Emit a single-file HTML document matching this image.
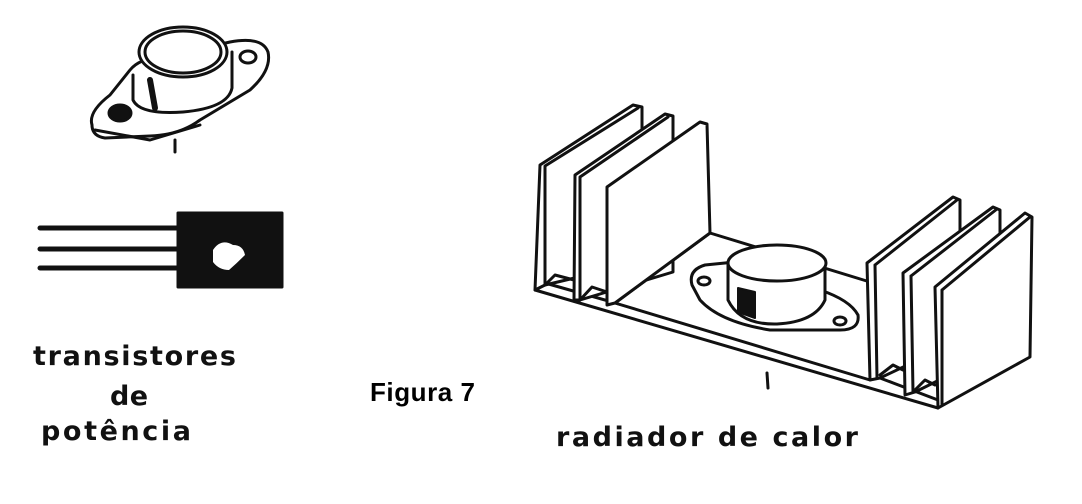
<!DOCTYPE html>
<html><head><meta charset="utf-8"><style>
html,body{margin:0;padding:0;background:#fff;}
svg{display:block}
.t{font-family:"DejaVu Sans","Liberation Sans",sans-serif;font-weight:bold;font-size:27px;fill:#111}
</style></head><body>
<svg width="1082" height="504" viewBox="0 0 1082 504" xmlns="http://www.w3.org/2000/svg">
<rect width="1082" height="504" fill="#fff"/>
<g fill="none" stroke="#111" stroke-width="3" stroke-linejoin="round" stroke-linecap="round">
<!-- top-left TO-3 transistor -->
<path d="M92,125 Q88,112 110,95 L130,70 Q140,58 160,58 L230,42 Q262,36 268,52 Q272,70 250,90 L200,120 Q180,135 150,136 L105,138 Q92,136 92,125 Z" fill="#fff"/>
<path d="M95,130 L150,140 L200,125"/>
<ellipse cx="120" cy="113" rx="11" ry="8" fill="#111"/>
<ellipse cx="248" cy="57" rx="8" ry="6"/>
<path d="M133,75 L133,100 Q140,115 183,112 Q228,108 232,88 L232,52" fill="#fff"/>
<ellipse cx="183" cy="52" rx="44" ry="25" fill="#fff"/>
<ellipse cx="183" cy="52" rx="38" ry="21"/>
<path d="M150,80 L155,108" stroke-width="6"/>
<path d="M175,140 L175,152"/>
<!-- TO-126 -->
<path d="M40,228 L178,228 M40,249 L178,249 M40,268 L178,268" stroke-width="5"/>
<rect x="178" y="213" width="104" height="74" fill="#111"/>
<path d="M213,250 q8,-12 20,-5 q10,0 12,10 q-8,8 -16,15 q-10,0 -16,-8 z" fill="#fff" stroke="none"/>
<!-- heatsink -->
<path d="M535,290 L545,283 L880,378 L938,400 L938,408 Z" fill="#fff"/>
<path d="M615,303 L710,233 L870,282 L870,380 Z" fill="#fff"/>
<path d="M535,290 L540,165 L633,105 L642,107 L642,262 L545,285 Z" fill="#fff"/>
<path d="M545,285 L545,166 L638,108"/>
<path d="M574,300 L575,175 L665,114 L673,116 L673,272 L580,300 Z" fill="#fff"/>
<path d="M580,300 L580,177 L668,117"/>
<path d="M607,305 L607,187 L700,122 L707,124 L710,233 L615,303 Z" fill="#fff"/>
<path d="M545,285 L555,275 L574,280 M580,300 L592,287 L607,292"/>
<!-- transistor on heatsink -->
<path d="M692,285 Q688,270 705,265 L735,262 L820,290 Q850,300 858,315 Q860,330 840,330 L770,330 Q720,322 700,300 Z" fill="#fff"/>
<ellipse cx="704" cy="281" rx="6" ry="4"/>
<ellipse cx="840" cy="321" rx="6" ry="4"/>
<path d="M728,262 L728,300 Q740,325 777,324 Q815,322 825,300 L825,263" fill="#fff"/>
<ellipse cx="777" cy="263" rx="49" ry="18" fill="#fff"/>
<path d="M738,288 L738,312 L755,318 L755,292 Z" fill="#111" stroke-width="2"/>
<path d="M767,373 L768,388"/>
<!-- right fins -->
<path d="M867,263 L953,197 L960,200 L960,340 L880,378 L870,380 Z" fill="#fff"/>
<path d="M875,265 L877,378 M875,265 L957,200"/>
<path d="M903,273 L993,207 L1000,210 L1000,350 L915,392 L905,395 Z" fill="#fff"/>
<path d="M911,276 L913,392 M911,276 L997,209"/>
<path d="M935,287 L1025,213 L1032,217 L1030,357 L938,408 Z" fill="#fff"/>
<path d="M942,290 L942,405 M942,290 L1030,217"/>
<path d="M880,375 L893,365 L903,370 M915,390 L925,380 L935,385"/>
</g>
<text class="t" x="33" y="365" textLength="203" lengthAdjust="spacing">transistores</text>
<text class="t" x="110" y="405" textLength="38" lengthAdjust="spacing">de</text>
<text class="t" x="41" y="440" textLength="150" lengthAdjust="spacing">potência</text>
<text x="370" y="401" font-family="Liberation Sans, Arial, sans-serif" font-weight="bold" font-size="26" fill="#000" textLength="105" lengthAdjust="spacing">Figura 7</text>
<text class="t" x="556" y="446" textLength="302" lengthAdjust="spacing">radiador de calor</text>
</svg>
</body></html>
